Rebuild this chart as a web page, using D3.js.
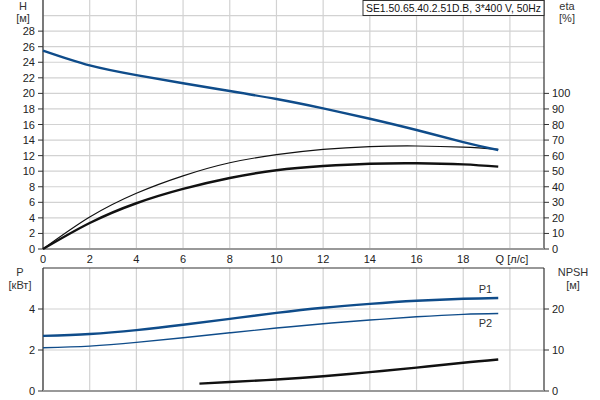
<!DOCTYPE html>
<html>
<head>
<meta charset="utf-8">
<script src="https://cdn.jsdelivr.net/npm/d3@7"></script>
<style>
  body { margin: 0; background: #fff; }
  svg { font-family: "Liberation Sans", Arial, sans-serif; }
  .tick-label { font-size: 11px; fill: #222; }
  .axis-title { font-size: 11px; fill: #333; }
</style>
</head>
<body>
<div class="chart"></div>
<script>
// head curve H [m]
var qH = [0, 2, 4, 6, 8, 10, 12, 14, 16, 18, 19.5];
var hVals = [25.5, 23.6, 22.35, 21.3, 20.3, 19.27, 18.07, 16.74, 15.29, 13.74, 12.72];

// efficiency curves eta [%]
var qEta = [0, 2, 4, 6, 8, 10, 12, 14, 16, 18, 19.5];
var etaPump = [0, 20.5, 35.8, 47.0, 55.4, 60.6, 64.0, 65.8, 66.2, 65.4, 64.0];
var etaTotal = [0, 16.7, 29.4, 38.6, 45.6, 50.6, 53.3, 54.8, 55.1, 54.4, 52.9];

// power curves P [kW]
var qP = [0, 2, 4, 6, 8, 10, 12, 14, 16, 18, 19.5];
var p1 = [2.69, 2.78, 2.97, 3.23, 3.52, 3.81, 4.06, 4.25, 4.40, 4.50, 4.54];
var p2 = [2.11, 2.19, 2.37, 2.60, 2.84, 3.07, 3.28, 3.46, 3.62, 3.74, 3.78];

// NPSH [m]
var qN = [6.7, 8, 10, 12, 14, 16, 18, 19.5];
var npsh = [1.8, 2.2, 2.8, 3.6, 4.6, 5.7, 6.9, 7.7];

var xTicks = [0, 2, 4, 6, 8, 10, 12, 14, 16, 18];
var hTicks = [0, 2, 4, 6, 8, 10, 12, 14, 16, 18, 20, 22, 24, 26, 28];
var etaTicks = [0, 10, 20, 30, 40, 50, 60, 70, 80, 90, 100];
var pTicks = [0, 2, 4];
var nTicks = [0, 10, 20];

var title = "SE1.50.65.40.2.51D.B, 3*400 V, 50Hz";

var blue = "#0f4c8a";

var svg = d3.select(".chart")
  .append("svg")
    .attr("width", 600)
    .attr("height", 400);

var left = 43, right = 544;
var topTop = 0, topBottom = 249;
var botTop = 268, botBottom = 391;

var x = d3.scaleLinear().domain([0, 21.46]).range([left, right]);
var yH = d3.scaleLinear().domain([0, 32]).range([topBottom, topTop]);
var yEta = d3.scaleLinear().domain([0, 160]).range([topBottom, topTop]);
var yP = d3.scaleLinear().domain([0, 6]).range([botBottom, botTop]);
var yN = d3.scaleLinear().domain([0, 30]).range([botBottom, botTop]);

// grids
var grid = svg.append("g").attr("stroke", "#d2d2d2").attr("stroke-width", 1.2);
d3.range(0, 21, 2).forEach(function(q) {
  grid.append("line").attr("x1", x(q)).attr("x2", x(q)).attr("y1", topTop).attr("y2", topBottom);
  grid.append("line").attr("x1", x(q)).attr("x2", x(q)).attr("y1", botTop).attr("y2", botBottom);
});
d3.range(2, 31, 2).forEach(function(h) {
  grid.append("line").attr("x1", left).attr("x2", right).attr("y1", yH(h)).attr("y2", yH(h));
});
[2, 4].forEach(function(p) {
  grid.append("line").attr("x1", left).attr("x2", right).attr("y1", yP(p)).attr("y2", yP(p));
});

// frames
function frame(y0, y1) {
  svg.append("line").attr("x1", left).attr("x2", left).attr("y1", y0).attr("y2", y1)
    .attr("stroke", "#333").attr("stroke-width", 1.2);
  svg.append("line").attr("x1", right).attr("x2", right).attr("y1", y0).attr("y2", y1)
    .attr("stroke", "#333").attr("stroke-width", 1.2);
  svg.append("line").attr("x1", left).attr("x2", right).attr("y1", y1).attr("y2", y1)
    .attr("stroke", "#999").attr("stroke-width", 2);
}
frame(topTop, topBottom);
frame(botTop, botBottom);
svg.append("line").attr("x1", left).attr("x2", right).attr("y1", botTop).attr("y2", botTop)
  .attr("stroke", "#333").attr("stroke-width", 1.2);

// left / right ticks
function ticksLeft(scale, vals) {
  vals.forEach(function(v) {
    svg.append("line").attr("x1", left - 5).attr("x2", left).attr("y1", scale(v)).attr("y2", scale(v))
      .attr("stroke", "#333");
    svg.append("text").attr("class", "tick-label").attr("x", left - 8).attr("y", scale(v) + 4)
      .attr("text-anchor", "end").text(v);
  });
}
function ticksRight(scale, vals) {
  vals.forEach(function(v) {
    svg.append("line").attr("x1", right).attr("x2", right + 5).attr("y1", scale(v)).attr("y2", scale(v))
      .attr("stroke", "#333");
    svg.append("text").attr("class", "tick-label").attr("x", right + 8).attr("y", scale(v) + 4)
      .text(v);
  });
}
ticksLeft(yH, hTicks);
ticksRight(yEta, etaTicks);
ticksLeft(yP, pTicks);
ticksRight(yN, nTicks);

// x tick labels
xTicks.forEach(function(q) {
  svg.append("text").attr("class", "tick-label").attr("x", x(q)).attr("y", 263)
    .attr("text-anchor", "middle").text(q);
});
svg.append("text").attr("class", "tick-label").attr("x", x(20) + 2).attr("y", 263)
  .attr("text-anchor", "middle").text("Q [л/с]");

// axis titles
svg.append("text").attr("class", "axis-title").attr("x", 23).attr("y", 10).attr("text-anchor", "middle").text("H");
svg.append("text").attr("class", "axis-title").attr("x", 23).attr("y", 22).attr("text-anchor", "middle").text("[м]");
svg.append("text").attr("class", "axis-title").attr("x", 567).attr("y", 10).attr("text-anchor", "middle").text("eta");
svg.append("text").attr("class", "axis-title").attr("x", 567).attr("y", 22).attr("text-anchor", "middle").text("[%]");
svg.append("text").attr("class", "axis-title").attr("x", 20).attr("y", 276).attr("text-anchor", "middle").text("P");
svg.append("text").attr("class", "axis-title").attr("x", 20).attr("y", 289).attr("text-anchor", "middle").text("[кВт]");
svg.append("text").attr("class", "axis-title").attr("x", 573).attr("y", 276).attr("text-anchor", "middle").text("NPSH");
svg.append("text").attr("class", "axis-title").attr("x", 573).attr("y", 289).attr("text-anchor", "middle").text("[м]");

// curves
function curve(qs, vs, yScale, color, w) {
  var line = d3.line()
    .x(function(d) { return x(d[0]); })
    .y(function(d) { return yScale(d[1]); })
    .curve(d3.curveNatural);
  svg.append("path")
    .datum(d3.zip(qs, vs))
    .attr("d", line)
    .attr("fill", "none")
    .attr("stroke", color)
    .attr("stroke-width", w);
}
curve(qEta, etaPump, yEta, "#111", 1.2);
curve(qEta, etaTotal, yEta, "#111", 2.4);
curve(qH, hVals, yH, blue, 2.4);
curve(qP, p1, yP, blue, 2.4);
curve(qP, p2, yP, blue, 1.4);
curve(qN, npsh, yN, "#111", 2.4);

svg.append("text").attr("class", "axis-title").attr("x", x(19.5) - 6).attr("y", yP(p1[p1.length - 1]) - 5)
  .attr("text-anchor", "end").attr("fill", "#1a3f6e").text("P1");
svg.append("text").attr("class", "axis-title").attr("x", x(19.5) - 6).attr("y", yP(p2[p2.length - 1]) + 13)
  .attr("text-anchor", "end").attr("fill", "#1a3f6e").text("P2");

// title box
svg.append("rect").attr("x", 363).attr("y", 0.5).attr("width", 181).attr("height", 15)
  .attr("fill", "#fff").attr("stroke", "#333");
svg.append("text").attr("x", 366).attr("y", 12).attr("font-size", 11).attr("fill", "#111")
  .attr("textLength", 175).attr("lengthAdjust", "spacingAndGlyphs").text(title);
</script>
</body>
</html>
